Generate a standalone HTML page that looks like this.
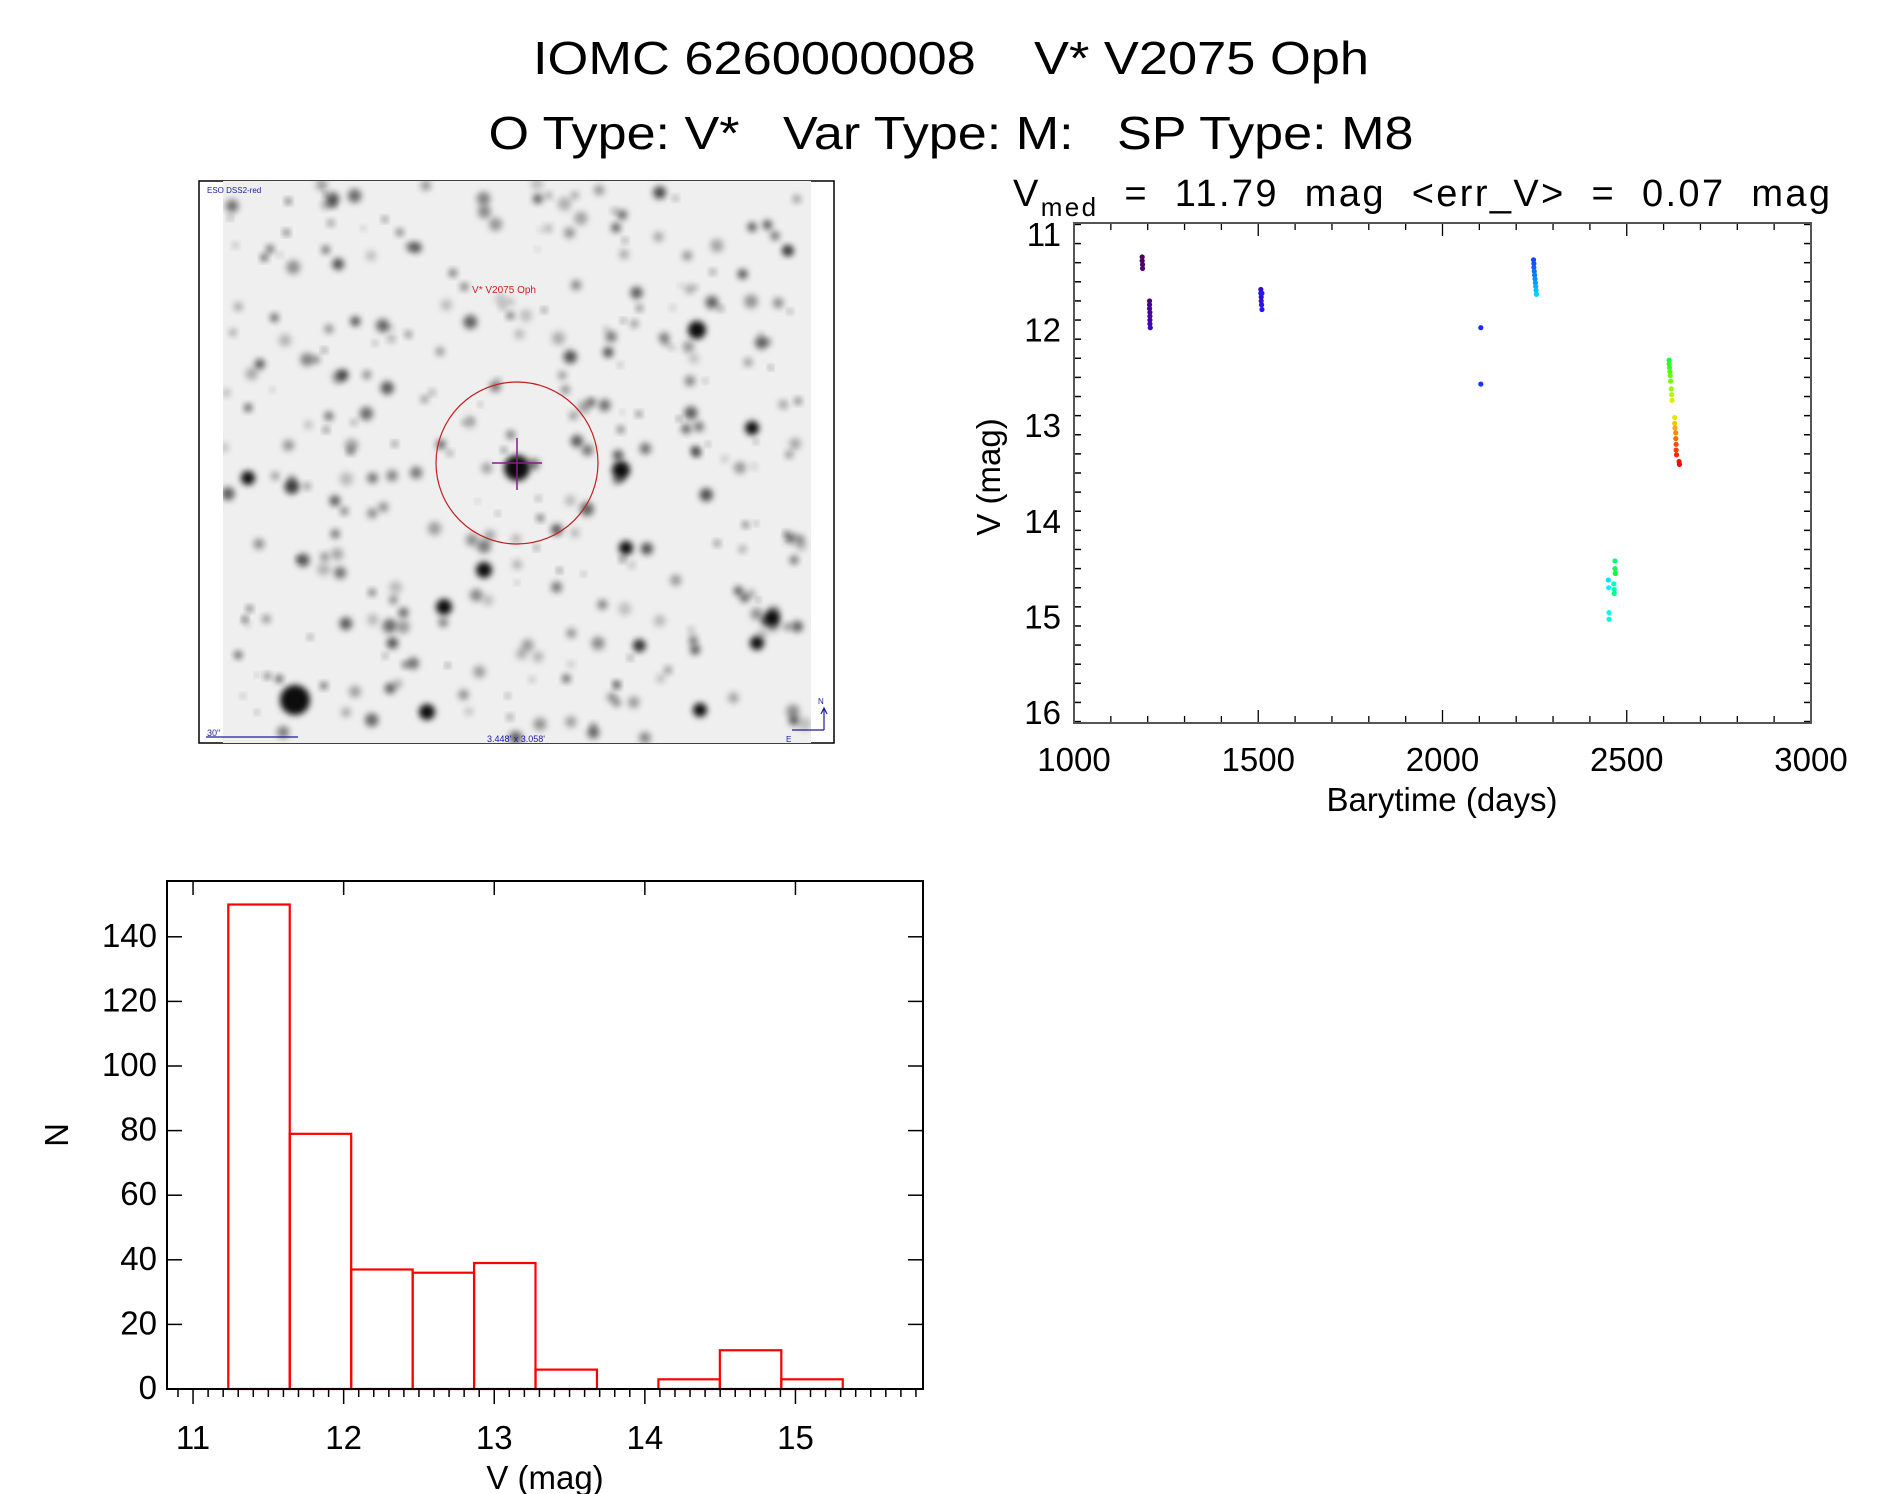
<!DOCTYPE html>
<html><head><meta charset="utf-8">
<style>
html,body{margin:0;padding:0;background:#fff;}
body{width:1889px;height:1494px;overflow:hidden;position:relative;font-family:"Liberation Sans",sans-serif;}
svg{position:absolute;left:0;top:0;}
text{font-family:"Liberation Sans",sans-serif;fill:#000;white-space:pre;}
</style></head>
<body>
<svg id="root" width="1889" height="1494" viewBox="0 0 1889 1494">
  <defs>
    <filter id="blur3" x="-50%" y="-50%" width="200%" height="200%"><feGaussianBlur stdDeviation="3.2"/></filter>
    <clipPath id="imgclip"><rect x="223" y="181" width="588" height="562"/></clipPath>
  </defs>
  <text xml:space="preserve" x="951" y="74" font-size="46" text-anchor="middle" textLength="836" lengthAdjust="spacingAndGlyphs">IOMC 6260000008    V* V2075 Oph</text>
  <text xml:space="preserve" x="951" y="149" font-size="46" text-anchor="middle" textLength="925" lengthAdjust="spacingAndGlyphs">O Type: V*   Var Type: M:   SP Type: M8</text>

  <g>
    <rect x="199" y="181" width="635" height="562" fill="#fff" stroke="#000" stroke-width="1.5"/>
    <rect x="223" y="181" width="588" height="562" fill="#efefef"/>
    <g id="stars" clip-path="url(#imgclip)"></g>
    <ellipse cx="517" cy="463" rx="81" ry="81" fill="none" stroke="#c02020" stroke-width="1.2"/>
    <line x1="517" y1="438" x2="517" y2="490" stroke="#8a1a8a" stroke-width="1.5"/>
    <line x1="492" y1="463" x2="542" y2="463" stroke="#8a1a8a" stroke-width="1.5"/>
    <text x="504" y="293" font-size="10" style="fill:#d02020" text-anchor="middle">V* V2075 Oph</text>
    <text x="207" y="193" font-size="8" style="fill:#1a1aa0">ESO DSS2-red</text>
    <line x1="206" y1="737" x2="298" y2="737" stroke="#1a1aa0" stroke-width="1.2"/>
    <text x="207" y="736" font-size="9" style="fill:#1a1aa0">30"</text>
    <text x="516" y="742" font-size="9" style="fill:#1a1aa0" text-anchor="middle">3.448' x 3.058'</text>
    <path d="M824 708 V 730 M824 730 H 792 M821 714 L824 708 L827 714" stroke="#1a1aa0" stroke-width="1.2" fill="none"/>
    <text x="818" y="704" font-size="8" style="fill:#1a1aa0">N</text>
    <text x="786" y="742" font-size="8" style="fill:#1a1aa0">E</text>
  </g>

  <g id="lc"></g>
  <g id="hist"></g>
</svg>
<script>
// ---------- Light curve data ----------
const lcTimes = [1185,1185,1186,1186, 1205,1205,1205,1206,1206,1206,1206,1207,
  1507,1507,1508,1508,1509,1510,1510, 2104,2104,
  2247,2248,2248,2249,2250,2251,2252,2253,2254,2255,
  2450,2451,2452,2452, 2465,2466,2466, 2468,2468,2469,
  2615,2615,2616,2617,2618,2619,2621,2622,2623, 2630,2630,2631, 2633,2633,2634,2634,2635, 2642,2643];
const lcMags = [11.24,11.28,11.32,11.36, 11.70,11.74,11.78,11.82,11.86,11.90,11.94,11.98,
  11.58,11.62,11.66,11.70,11.74,11.79,11.62, 11.98,12.57,
  11.27,11.31,11.35,11.39,11.43,11.47,11.51,11.55,11.59,11.63,
  14.62,14.70,14.96,15.03, 14.66,14.72,14.76, 14.42,14.50,14.55,
  12.32,12.36,12.40,12.44,12.48,12.54,12.62,12.68,12.74, 12.92,12.98,13.03, 13.08,13.14,13.20,13.26,13.31, 13.38,13.41];
const lcXTicks = [1000,1500,2000,2500,3000];
const lcYTicks = [11,12,13,14,15,16];
// ---------- Histogram data ----------
const histStart = 11.234;
const histBinWidth = 0.408;
const histCounts = [150,79,37,36,39,6,0,3,12,3];
const histXTicks = [11,12,13,14,15];
const histYTicks = [0,20,40,60,80,100,120,140];

const NS='http://www.w3.org/2000/svg';
function mk(parent,tag,attrs,txt){const e=document.createElementNS(NS,tag);for(const k in attrs)e.setAttribute(k,attrs[k]);if(txt!==undefined)e.textContent=txt;parent.appendChild(e);return e;}

// ---------- Light curve ----------
(function(){
  const g=document.getElementById('lc');
  const L=1074,R=1811,T=223,B=723;
  const xs=t=>L+(t-1000)/2000*(R-L);
  const ys=m=>234+(m-11)*95.6;
  const ax='#555';
  for(let t=1000;t<=3000;t+=100){
    const maj=t%500===0, len=maj?13:7;
    let e=mk(g,'line',{x1:xs(t),x2:xs(t),y1:B,y2:B-len,stroke:'#000','stroke-width':1.3});
    
    
    e=mk(g,'line',{x1:xs(t),x2:xs(t),y1:T,y2:T+len,stroke:'#000','stroke-width':1.3});
    
    
  }
  for(let i=0;i<=26;i++){
    const m=10.9+i*0.2; const y=ys(m); if(y<T||y>B)continue;
    const maj=Math.abs(m-Math.round(m))<0.01, len=maj?15:7;
    let e=mk(g,'line',{x1:L,x2:L+len,y1:y,y2:y,stroke:maj?'#777':'#000','stroke-width':1.5});
    
    
    e=mk(g,'line',{x1:R,x2:R-len,y1:y,y2:y,stroke:maj?'#777':'#000','stroke-width':1.5});
    
    
  }
  let fr=mk(g,'rect',{x:L,y:T,width:R-L,height:B-T,fill:'none',stroke:ax,'stroke-width':2});
  
  
  lcXTicks.forEach(v=>{
    const e=mk(g,'text',{x:xs(v),y:771,'font-size':33,'text-anchor':'middle'},String(v));
    
    
  });
  lcYTicks.forEach(v=>{
    const e=mk(g,'text',{x:1061,y:ys(v)+12,'font-size':33,'text-anchor':'end'},String(v));
    
    
  });
  let xl=mk(g,'text',{x:1442,y:811,'font-size':33,'text-anchor':'middle'},'Barytime (days)');
  
  
  let yl=mk(g,'text',{x:0,y:0,'font-size':33,'text-anchor':'middle',transform:'translate(1000,477) rotate(-90)'},'V (mag)');
  
  
  const st=mk(g,'text',{x:1013,y:206,'font-size':38,textLength:817,lengthAdjust:'spacing'});
  st.setAttribute('xml:space','preserve');
  
  
  mk(st,'tspan',{},'V');
  mk(st,'tspan',{'font-size':26,dy:10},'med');
  mk(st,'tspan',{dy:-10},'  =  11.79  mag  <err_V>  =  0.07  mag');
  const stops=[[0,[80,0,96]],[0.15,[70,0,170]],[0.3,[40,20,255]],[0.36,[20,70,255]],[0.45,[0,150,255]],[0.55,[0,255,255]],[0.68,[0,255,60]],[0.78,[120,255,0]],[0.84,[230,240,0]],[0.88,[255,170,0]],[0.93,[255,80,0]],[1,[255,0,0]]];
  function cmap(f){for(let i=1;i<stops.length;i++){if(f<=stops[i][0]){const a=stops[i-1],b=stops[i],u=(f-a[0])/(b[0]-a[0]);return 'rgb('+a[1].map((c,k)=>Math.round(c+(b[1][k]-c)*u)).join(',')+')';}}return 'rgb(255,0,0)';}
  const idx=lcTimes.map((t,i)=>i).sort((a,b)=>lcTimes[a]-lcTimes[b]);
  const n=lcTimes.length;
  idx.forEach((i,r)=>{
    const e=mk(g,'circle',{cx:xs(lcTimes[i]),cy:ys(lcMags[i]),r:2.6,fill:cmap(r/(n-1))});
    
    
  });
})();

// ---------- Histogram ----------
(function(){
  const g=document.getElementById('hist');
  const L=167,R=923,T=881,B=1389;
  const xMin=10.827, pxPerMag=150.6;
  const xs=v=>L+(v-xMin)*pxPerMag;
  const ys=c=>B-c*3.23;
  histCounts.forEach((c,i)=>{
    const x0=xs(histStart+i*histBinWidth), x1=xs(histStart+(i+1)*histBinWidth);
    const e=mk(g,'rect',{x:x0,y:ys(c),width:x1-x0,height:B-ys(c),fill:'none',stroke:'#ff0000','stroke-width':2.2});
    
    
  });
  let fr=mk(g,'rect',{x:L,y:T,width:R-L,height:B-T,fill:'none',stroke:'#000','stroke-width':2});
  
  
  for(let k=109;k<=158;k++){
    const v=k/10; const x=xs(v); if(x<L||x>R)continue;
    const maj=k%10===0, len=maj?15:8;
    let e=mk(g,'line',{x1:x,x2:x,y1:B,y2:B+len,stroke:'#000','stroke-width':1.5});
    
    
    if(maj){
      e=mk(g,'line',{x1:x,x2:x,y1:T,y2:T+14,stroke:'#000','stroke-width':1.5});
      
      
    }
  }
  histYTicks.forEach(v=>{
    const y=ys(v);
    let e=mk(g,'line',{x1:L,x2:L+15,y1:y,y2:y,stroke:'#000','stroke-width':1.5});
    
    
    e=mk(g,'line',{x1:R,x2:R-15,y1:y,y2:y,stroke:'#000','stroke-width':1.5});
    
    
    e=mk(g,'text',{x:157,y:y+10,'font-size':33,'text-anchor':'end'},String(v));
    
    
  });
  histXTicks.forEach(v=>{
    const e=mk(g,'text',{x:xs(v),y:1449,'font-size':33,'text-anchor':'middle'},String(v));
    
    
  });
  let xl=mk(g,'text',{x:545,y:1489,'font-size':33,'text-anchor':'middle'},'V (mag)');
  
  
  let yl=mk(g,'text',{x:0,y:0,'font-size':33,'text-anchor':'middle',transform:'translate(68,1135) rotate(-90)'},'N');
  
  
})();

// ---------- Star field (decorative image) ----------
(function(){
  const g=document.getElementById('stars');
  let s=12345; const rnd=()=>{s=(s*1103515245+12345)%2147483648;return s/2147483648;};
  for(let i=0;i<320;i++){
    const x=223+rnd()*588, y=181+rnd()*562, r=2+rnd()*5, o=0.2+rnd()*0.5;
    const e=mk(g,'circle',{cx:x,cy:y,r:r,fill:'#000','fill-opacity':o,filter:'url(#blur3)'});
    
    
  }
  const big=[[517,468,13],[295,700,15],[697,330,9],[621,470,9],[484,570,8],[444,607,8],[626,548,7],[772,618,8],[427,712,8],[757,643,7],[700,710,7],[248,478,7],[752,428,7]];
  big.forEach(b=>{
    const e=mk(g,'circle',{cx:b[0],cy:b[1],r:b[2],fill:'#000','fill-opacity':0.95,filter:'url(#blur3)'});
    
    
  });
})();
</script>
</body></html>
